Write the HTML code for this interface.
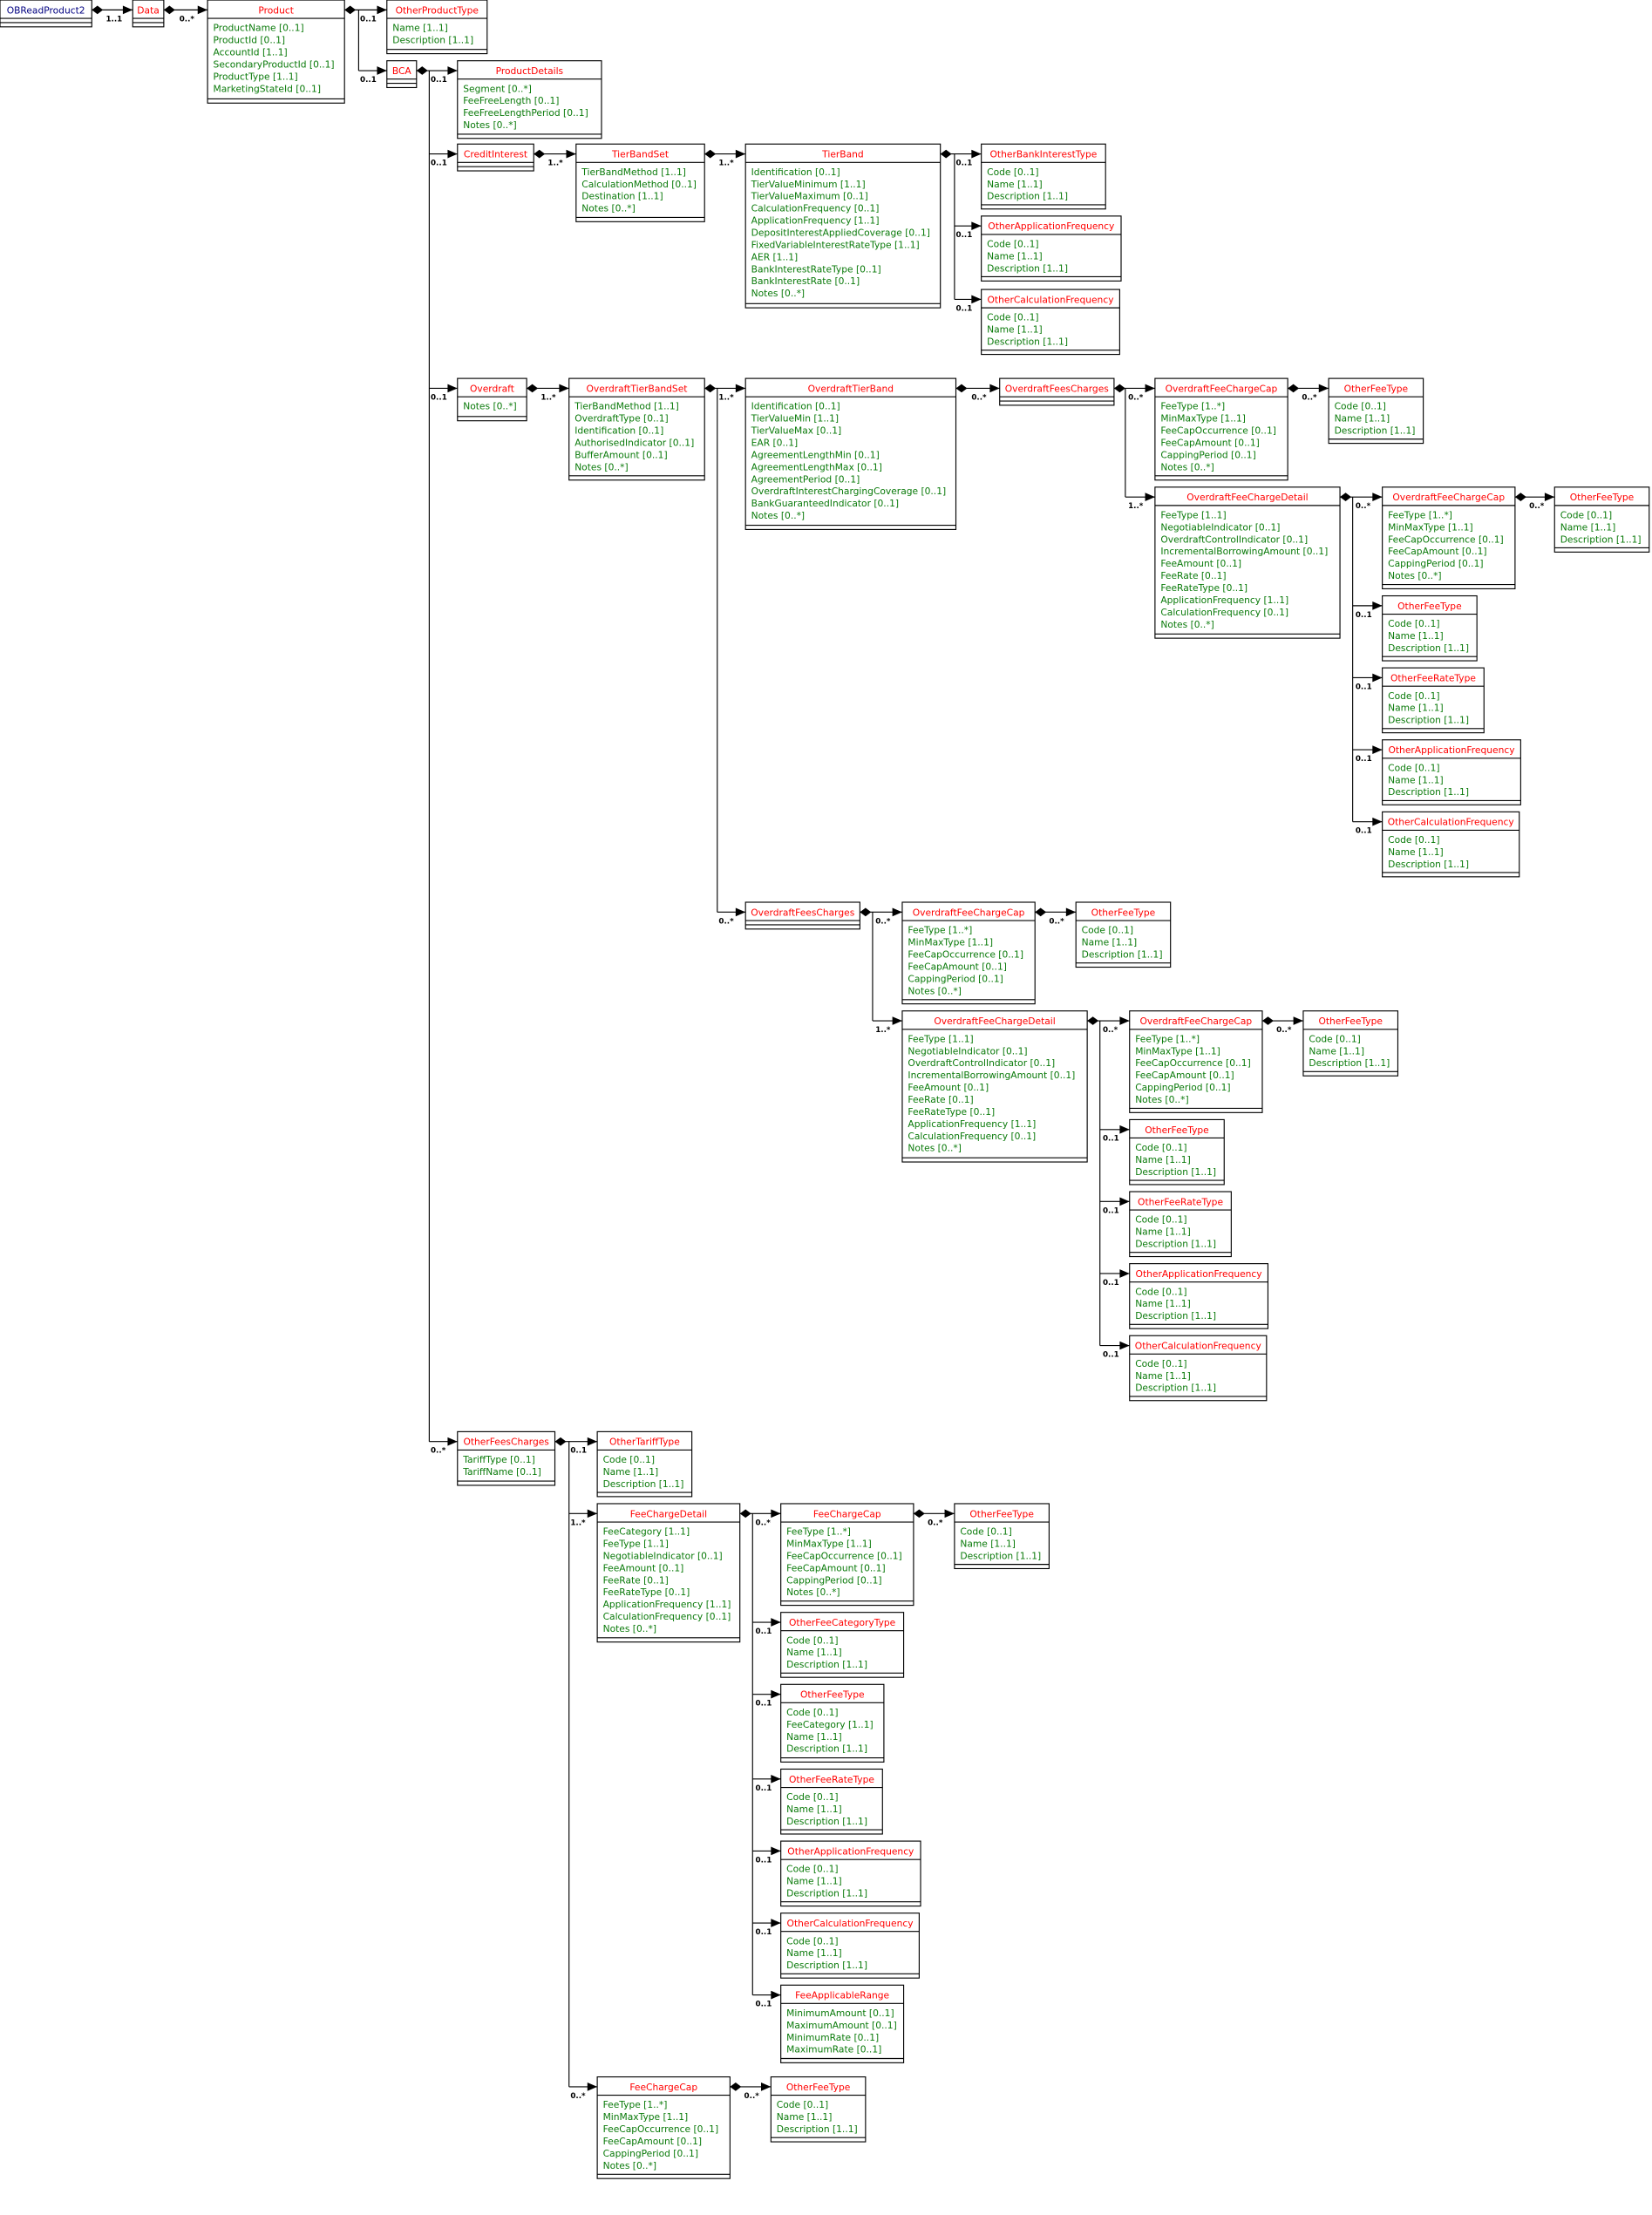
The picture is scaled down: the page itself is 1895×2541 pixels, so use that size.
<!DOCTYPE html>
<html><head><meta charset="utf-8"><style>
html,body{margin:0;padding:0;background:#fff}
svg{display:block}
.b rect{fill:#fff;stroke:#000;stroke-width:0.7}
.b line{stroke:#000;stroke-width:0.7}
text{font-family:"DejaVu Sans","Liberation Sans",sans-serif;font-size:6.6px}
.h{fill:#ff0000;text-anchor:middle}
.n{fill:#000080;text-anchor:middle}
.a{fill:#0a7a0a}
.m{fill:#000;font-size:5.4px;font-weight:bold}
.c{fill:none;stroke:#000;stroke-width:0.7}
.d{fill:#000}
</style></head><body>
<svg width="1895" height="2541" viewBox="0 0 1170 1568.8" xmlns="http://www.w3.org/2000/svg">
<rect x="0" y="0" width="1170" height="1569" fill="#fff"/>

<!-- connectors -->
<g>
<path class="c" d="M65,7H94 M116,7H147 M244,7H254V50 M254,7H274 M254,50H274
M295,50H304V1021 M304,50H324 M304,109H324 M304,275H324 M304,1021H324
M378,109H408 M499,109H528 M666,109H676V212 M676,109H695 M676,160H695 M676,212H695
M373,275H403 M499,275H508V646 M508,275H528 M508,646H528
M677,275H708 M789,275H797V352 M797,275H818 M797,352H818 M912,275H941
M949,352H958V582 M958,352H979 M958,429H979 M958,480H979 M958,531H979 M958,582H979 M1073,352H1101
M609,646H618V723 M618,646H639 M618,723H639 M733,646H762
M770,723H779V953 M779,723H800 M779,800H800 M779,851H800 M779,902H800 M779,953H800 M894,723H923
M393,1021H403V1478 M403,1021H423 M403,1072H423 M403,1478H423
M524,1072H533V1413 M533,1072H553 M533,1149H553 M533,1200H553 M533,1260H553 M533,1311H553 M533,1362H553 M533,1413H553
M647,1072H676 M517,1478H546"/>
<!-- diamonds -->
<path class="d" d="M65,7l4,-3l4,3l-4,3z M116,7l4,-3l4,3l-4,3z M244,7l4,-3l4,3l-4,3z M295,50l4,-3l4,3l-4,3z
M378,109l4,-3l4,3l-4,3z M499,109l4,-3l4,3l-4,3z M666,109l4,-3l4,3l-4,3z M373,275l4,-3l4,3l-4,3z M499,275l4,-3l4,3l-4,3z
M677,275l4,-3l4,3l-4,3z M789,275l4,-3l4,3l-4,3z M912,275l4,-3l4,3l-4,3z M949,352l4,-3l4,3l-4,3z M1073,352l4,-3l4,3l-4,3z
M609,646l4,-3l4,3l-4,3z M733,646l4,-3l4,3l-4,3z M770,723l4,-3l4,3l-4,3z M894,723l4,-3l4,3l-4,3z
M393,1021l4,-3l4,3l-4,3z M524,1072l4,-3l4,3l-4,3z M647,1072l4,-3l4,3l-4,3z M517,1478l4,-3l4,3l-4,3z"/>
<!-- arrows -->
<path class="d" d="M94,7l-7,-3v6z M147,7l-7,-3v6z M274,7l-7,-3v6z M274,50l-7,-3v6z
M324,50l-7,-3v6z M324,109l-7,-3v6z M324,275l-7,-3v6z M324,1021l-7,-3v6z
M408,109l-7,-3v6z M528,109l-7,-3v6z M695,109l-7,-3v6z M695,160l-7,-3v6z M695,212l-7,-3v6z
M403,275l-7,-3v6z M528,275l-7,-3v6z M528,646l-7,-3v6z M708,275l-7,-3v6z M818,275l-7,-3v6z M818,352l-7,-3v6z M941,275l-7,-3v6z
M979,352l-7,-3v6z M979,429l-7,-3v6z M979,480l-7,-3v6z M979,531l-7,-3v6z M979,582l-7,-3v6z M1101,352l-7,-3v6z
M639,646l-7,-3v6z M639,723l-7,-3v6z M762,646l-7,-3v6z
M800,723l-7,-3v6z M800,800l-7,-3v6z M800,851l-7,-3v6z M800,902l-7,-3v6z M800,953l-7,-3v6z M923,723l-7,-3v6z
M423,1021l-7,-3v6z M423,1072l-7,-3v6z M423,1478l-7,-3v6z
M553,1072l-7,-3v6z M553,1149l-7,-3v6z M553,1200l-7,-3v6z M553,1260l-7,-3v6z M553,1311l-7,-3v6z M553,1362l-7,-3v6z M553,1413l-7,-3v6z
M676,1072l-7,-3v6z M546,1478l-7,-3v6z"/>
<!-- multiplicities -->
<text class="m" x="75" y="15">1..1</text>
<text class="m" x="127" y="15">0..*</text>
<text class="m" x="255" y="15">0..1</text>
<text class="m" x="255" y="58">0..1</text>
<text class="m" x="305" y="58">0..1</text>
<text class="m" x="305" y="117">0..1</text>
<text class="m" x="305" y="283">0..1</text>
<text class="m" x="305" y="1029">0..*</text>
<text class="m" x="388" y="117">1..*</text>
<text class="m" x="509" y="117">1..*</text>
<text class="m" x="677" y="117">0..1</text>
<text class="m" x="677" y="168">0..1</text>
<text class="m" x="677" y="220">0..1</text>
<text class="m" x="383" y="283">1..*</text>
<text class="m" x="509" y="283">1..*</text>
<text class="m" x="509" y="654">0..*</text>
<text class="m" x="688" y="283">0..*</text>
<text class="m" x="799" y="283">0..*</text>
<text class="m" x="799" y="360">1..*</text>
<text class="m" x="922" y="283">0..*</text>
<text class="m" x="960" y="360">0..*</text>
<text class="m" x="960" y="437">0..1</text>
<text class="m" x="960" y="488">0..1</text>
<text class="m" x="960" y="539">0..1</text>
<text class="m" x="960" y="590">0..1</text>
<text class="m" x="1083" y="360">0..*</text>
<text class="m" x="620" y="654">0..*</text>
<text class="m" x="620" y="731">1..*</text>
<text class="m" x="743" y="654">0..*</text>
<text class="m" x="781" y="731">0..*</text>
<text class="m" x="781" y="808">0..1</text>
<text class="m" x="781" y="859">0..1</text>
<text class="m" x="781" y="910">0..1</text>
<text class="m" x="781" y="961">0..1</text>
<text class="m" x="904" y="731">0..*</text>
<text class="m" x="404" y="1029">0..1</text>
<text class="m" x="404" y="1080">1..*</text>
<text class="m" x="404" y="1486">0..*</text>
<text class="m" x="535" y="1080">0..*</text>
<text class="m" x="535" y="1157">0..1</text>
<text class="m" x="535" y="1208">0..1</text>
<text class="m" x="535" y="1268">0..1</text>
<text class="m" x="535" y="1319">0..1</text>
<text class="m" x="535" y="1370">0..1</text>
<text class="m" x="535" y="1421">0..1</text>
<text class="m" x="657" y="1080">0..*</text>
<text class="m" x="527" y="1486">0..*</text>
</g>

<!-- boxes -->
<g class="b" transform="translate(0,0)"><rect width="65" height="19"/><line x2="65" y1="13" y2="13"/><line x2="65" y1="16" y2="16"/><text class="n" x="32.5" y="9.5">OBReadProduct2</text></g>
<g class="b" transform="translate(94,0)"><rect width="22" height="19"/><line x2="22" y1="13" y2="13"/><line x2="22" y1="16" y2="16"/><text class="h" x="11" y="9.5">Data</text></g>
<g class="b" transform="translate(147,0)"><rect width="97" height="73"/><line x2="97" y1="13" y2="13"/><line x2="97" y1="70" y2="70"/><text class="h" x="48.5" y="9.5">Product</text>
<text class="a" x="4" y="22">ProductName [0..1]</text><text class="a" x="4" y="30.6">ProductId [0..1]</text><text class="a" x="4" y="39.2">AccountId [1..1]</text><text class="a" x="4" y="47.8">SecondaryProductId [0..1]</text><text class="a" x="4" y="56.4">ProductType [1..1]</text><text class="a" x="4" y="65">MarketingStateId [0..1]</text></g>
<g class="b" transform="translate(274,0)"><rect width="71" height="38"/><line x2="71" y1="13" y2="13"/><line x2="71" y1="35" y2="35"/><text class="h" x="35.5" y="9.5">OtherProductType</text>
<text class="a" x="4" y="22">Name [1..1]</text><text class="a" x="4" y="30.6">Description [1..1]</text></g>
<g class="b" transform="translate(274,43)"><rect width="21" height="19"/><line x2="21" y1="13" y2="13"/><line x2="21" y1="16" y2="16"/><text class="h" x="10.5" y="9.5">BCA</text></g>
<g class="b" transform="translate(324,43)"><rect width="102" height="55"/><line x2="102" y1="13" y2="13"/><line x2="102" y1="52" y2="52"/><text class="h" x="51" y="9.5">ProductDetails</text>
<text class="a" x="4" y="22">Segment [0..*]</text><text class="a" x="4" y="30.6">FeeFreeLength [0..1]</text><text class="a" x="4" y="39.2">FeeFreeLengthPeriod [0..1]</text><text class="a" x="4" y="47.8">Notes [0..*]</text></g>
<g class="b" transform="translate(324,102)"><rect width="54" height="19"/><line x2="54" y1="13" y2="13"/><line x2="54" y1="16" y2="16"/><text class="h" x="27" y="9.5">CreditInterest</text></g>
<g class="b" transform="translate(408,102)"><rect width="91" height="55"/><line x2="91" y1="13" y2="13"/><line x2="91" y1="52" y2="52"/><text class="h" x="45.5" y="9.5">TierBandSet</text>
<text class="a" x="4" y="22">TierBandMethod [1..1]</text><text class="a" x="4" y="30.6">CalculationMethod [0..1]</text><text class="a" x="4" y="39.2">Destination [1..1]</text><text class="a" x="4" y="47.8">Notes [0..*]</text></g>
<g class="b" transform="translate(528,102)"><rect width="138" height="116"/><line x2="138" y1="13" y2="13"/><line x2="138" y1="113" y2="113"/><text class="h" x="69" y="9.5">TierBand</text>
<text class="a" x="4" y="22">Identification [0..1]</text><text class="a" x="4" y="30.6">TierValueMinimum [1..1]</text><text class="a" x="4" y="39.2">TierValueMaximum [0..1]</text><text class="a" x="4" y="47.8">CalculationFrequency [0..1]</text><text class="a" x="4" y="56.4">ApplicationFrequency [1..1]</text><text class="a" x="4" y="65">DepositInterestAppliedCoverage [0..1]</text><text class="a" x="4" y="73.6">FixedVariableInterestRateType [1..1]</text><text class="a" x="4" y="82.2">AER [1..1]</text><text class="a" x="4" y="90.8">BankInterestRateType [0..1]</text><text class="a" x="4" y="99.4">BankInterestRate [0..1]</text><text class="a" x="4" y="108">Notes [0..*]</text></g>
<g class="b" transform="translate(695,102)"><rect width="88" height="46"/><line x2="88" y1="13" y2="13"/><line x2="88" y1="43" y2="43"/><text class="h" x="44" y="9.5">OtherBankInterestType</text>
<text class="a" x="4" y="22">Code [0..1]</text><text class="a" x="4" y="30.6">Name [1..1]</text><text class="a" x="4" y="39.2">Description [1..1]</text></g>
<g class="b" transform="translate(695,153)"><rect width="99" height="46"/><line x2="99" y1="13" y2="13"/><line x2="99" y1="43" y2="43"/><text class="h" x="49.5" y="9.5">OtherApplicationFrequency</text>
<text class="a" x="4" y="22">Code [0..1]</text><text class="a" x="4" y="30.6">Name [1..1]</text><text class="a" x="4" y="39.2">Description [1..1]</text></g>
<g class="b" transform="translate(695,205)"><rect width="98" height="46"/><line x2="98" y1="13" y2="13"/><line x2="98" y1="43" y2="43"/><text class="h" x="49" y="9.5">OtherCalculationFrequency</text>
<text class="a" x="4" y="22">Code [0..1]</text><text class="a" x="4" y="30.6">Name [1..1]</text><text class="a" x="4" y="39.2">Description [1..1]</text></g>

<g class="b" transform="translate(324,268)"><rect width="49" height="30"/><line x2="49" y1="13" y2="13"/><line x2="49" y1="27" y2="27"/><text class="h" x="24.5" y="9.5">Overdraft</text>
<text class="a" x="4" y="22">Notes [0..*]</text></g>
<g class="b" transform="translate(403,268)"><rect width="96" height="72"/><line x2="96" y1="13" y2="13"/><line x2="96" y1="69" y2="69"/><text class="h" x="48" y="9.5">OverdraftTierBandSet</text>
<text class="a" x="4" y="22">TierBandMethod [1..1]</text><text class="a" x="4" y="30.6">OverdraftType [0..1]</text><text class="a" x="4" y="39.2">Identification [0..1]</text><text class="a" x="4" y="47.8">AuthorisedIndicator [0..1]</text><text class="a" x="4" y="56.4">BufferAmount [0..1]</text><text class="a" x="4" y="65">Notes [0..*]</text></g>
<g class="b" transform="translate(528,268)"><rect width="149" height="107"/><line x2="149" y1="13" y2="13"/><line x2="149" y1="104" y2="104"/><text class="h" x="74.5" y="9.5">OverdraftTierBand</text>
<text class="a" x="4" y="22">Identification [0..1]</text><text class="a" x="4" y="30.6">TierValueMin [1..1]</text><text class="a" x="4" y="39.2">TierValueMax [0..1]</text><text class="a" x="4" y="47.8">EAR [0..1]</text><text class="a" x="4" y="56.4">AgreementLengthMin [0..1]</text><text class="a" x="4" y="65">AgreementLengthMax [0..1]</text><text class="a" x="4" y="73.6">AgreementPeriod [0..1]</text><text class="a" x="4" y="82.2">OverdraftInterestChargingCoverage [0..1]</text><text class="a" x="4" y="90.8">BankGuaranteedIndicator [0..1]</text><text class="a" x="4" y="99.4">Notes [0..*]</text></g>
<g class="b" transform="translate(708,268)"><rect width="81" height="19"/><line x2="81" y1="13" y2="13"/><line x2="81" y1="16" y2="16"/><text class="h" x="40.5" y="9.5">OverdraftFeesCharges</text></g>
<g class="b" transform="translate(818,268)"><rect width="94" height="72"/><line x2="94" y1="13" y2="13"/><line x2="94" y1="69" y2="69"/><text class="h" x="47" y="9.5">OverdraftFeeChargeCap</text>
<text class="a" x="4" y="22">FeeType [1..*]</text><text class="a" x="4" y="30.6">MinMaxType [1..1]</text><text class="a" x="4" y="39.2">FeeCapOccurrence [0..1]</text><text class="a" x="4" y="47.8">FeeCapAmount [0..1]</text><text class="a" x="4" y="56.4">CappingPeriod [0..1]</text><text class="a" x="4" y="65">Notes [0..*]</text></g>
<g class="b" transform="translate(941,268)"><rect width="67" height="46"/><line x2="67" y1="13" y2="13"/><line x2="67" y1="43" y2="43"/><text class="h" x="33.5" y="9.5">OtherFeeType</text>
<text class="a" x="4" y="22">Code [0..1]</text><text class="a" x="4" y="30.6">Name [1..1]</text><text class="a" x="4" y="39.2">Description [1..1]</text></g>
<g class="b" transform="translate(818,345)"><rect width="131" height="107"/><line x2="131" y1="13" y2="13"/><line x2="131" y1="104" y2="104"/><text class="h" x="65.5" y="9.5">OverdraftFeeChargeDetail</text>
<text class="a" x="4" y="22">FeeType [1..1]</text><text class="a" x="4" y="30.6">NegotiableIndicator [0..1]</text><text class="a" x="4" y="39.2">OverdraftControlIndicator [0..1]</text><text class="a" x="4" y="47.8">IncrementalBorrowingAmount [0..1]</text><text class="a" x="4" y="56.4">FeeAmount [0..1]</text><text class="a" x="4" y="65">FeeRate [0..1]</text><text class="a" x="4" y="73.6">FeeRateType [0..1]</text><text class="a" x="4" y="82.2">ApplicationFrequency [1..1]</text><text class="a" x="4" y="90.8">CalculationFrequency [0..1]</text><text class="a" x="4" y="99.4">Notes [0..*]</text></g>
<g class="b" transform="translate(979,345)"><rect width="94" height="72"/><line x2="94" y1="13" y2="13"/><line x2="94" y1="69" y2="69"/><text class="h" x="47" y="9.5">OverdraftFeeChargeCap</text>
<text class="a" x="4" y="22">FeeType [1..*]</text><text class="a" x="4" y="30.6">MinMaxType [1..1]</text><text class="a" x="4" y="39.2">FeeCapOccurrence [0..1]</text><text class="a" x="4" y="47.8">FeeCapAmount [0..1]</text><text class="a" x="4" y="56.4">CappingPeriod [0..1]</text><text class="a" x="4" y="65">Notes [0..*]</text></g>
<g class="b" transform="translate(1101,345)"><rect width="67" height="46"/><line x2="67" y1="13" y2="13"/><line x2="67" y1="43" y2="43"/><text class="h" x="33.5" y="9.5">OtherFeeType</text>
<text class="a" x="4" y="22">Code [0..1]</text><text class="a" x="4" y="30.6">Name [1..1]</text><text class="a" x="4" y="39.2">Description [1..1]</text></g>
<g class="b" transform="translate(979,422)"><rect width="67" height="46"/><line x2="67" y1="13" y2="13"/><line x2="67" y1="43" y2="43"/><text class="h" x="33.5" y="9.5">OtherFeeType</text>
<text class="a" x="4" y="22">Code [0..1]</text><text class="a" x="4" y="30.6">Name [1..1]</text><text class="a" x="4" y="39.2">Description [1..1]</text></g>
<g class="b" transform="translate(979,473)"><rect width="72" height="46"/><line x2="72" y1="13" y2="13"/><line x2="72" y1="43" y2="43"/><text class="h" x="36" y="9.5">OtherFeeRateType</text>
<text class="a" x="4" y="22">Code [0..1]</text><text class="a" x="4" y="30.6">Name [1..1]</text><text class="a" x="4" y="39.2">Description [1..1]</text></g>
<g class="b" transform="translate(979,524)"><rect width="98" height="46"/><line x2="98" y1="13" y2="13"/><line x2="98" y1="43" y2="43"/><text class="h" x="49" y="9.5">OtherApplicationFrequency</text>
<text class="a" x="4" y="22">Code [0..1]</text><text class="a" x="4" y="30.6">Name [1..1]</text><text class="a" x="4" y="39.2">Description [1..1]</text></g>
<g class="b" transform="translate(979,575)"><rect width="97" height="46"/><line x2="97" y1="13" y2="13"/><line x2="97" y1="43" y2="43"/><text class="h" x="48.5" y="9.5">OtherCalculationFrequency</text>
<text class="a" x="4" y="22">Code [0..1]</text><text class="a" x="4" y="30.6">Name [1..1]</text><text class="a" x="4" y="39.2">Description [1..1]</text></g>

<g class="b" transform="translate(528,639)"><rect width="81" height="19"/><line x2="81" y1="13" y2="13"/><line x2="81" y1="16" y2="16"/><text class="h" x="40.5" y="9.5">OverdraftFeesCharges</text></g>
<g class="b" transform="translate(639,639)"><rect width="94" height="72"/><line x2="94" y1="13" y2="13"/><line x2="94" y1="69" y2="69"/><text class="h" x="47" y="9.5">OverdraftFeeChargeCap</text>
<text class="a" x="4" y="22">FeeType [1..*]</text><text class="a" x="4" y="30.6">MinMaxType [1..1]</text><text class="a" x="4" y="39.2">FeeCapOccurrence [0..1]</text><text class="a" x="4" y="47.8">FeeCapAmount [0..1]</text><text class="a" x="4" y="56.4">CappingPeriod [0..1]</text><text class="a" x="4" y="65">Notes [0..*]</text></g>
<g class="b" transform="translate(762,639)"><rect width="67" height="46"/><line x2="67" y1="13" y2="13"/><line x2="67" y1="43" y2="43"/><text class="h" x="33.5" y="9.5">OtherFeeType</text>
<text class="a" x="4" y="22">Code [0..1]</text><text class="a" x="4" y="30.6">Name [1..1]</text><text class="a" x="4" y="39.2">Description [1..1]</text></g>
<g class="b" transform="translate(639,716)"><rect width="131" height="107"/><line x2="131" y1="13" y2="13"/><line x2="131" y1="104" y2="104"/><text class="h" x="65.5" y="9.5">OverdraftFeeChargeDetail</text>
<text class="a" x="4" y="22">FeeType [1..1]</text><text class="a" x="4" y="30.6">NegotiableIndicator [0..1]</text><text class="a" x="4" y="39.2">OverdraftControlIndicator [0..1]</text><text class="a" x="4" y="47.8">IncrementalBorrowingAmount [0..1]</text><text class="a" x="4" y="56.4">FeeAmount [0..1]</text><text class="a" x="4" y="65">FeeRate [0..1]</text><text class="a" x="4" y="73.6">FeeRateType [0..1]</text><text class="a" x="4" y="82.2">ApplicationFrequency [1..1]</text><text class="a" x="4" y="90.8">CalculationFrequency [0..1]</text><text class="a" x="4" y="99.4">Notes [0..*]</text></g>
<g class="b" transform="translate(800,716)"><rect width="94" height="72"/><line x2="94" y1="13" y2="13"/><line x2="94" y1="69" y2="69"/><text class="h" x="47" y="9.5">OverdraftFeeChargeCap</text>
<text class="a" x="4" y="22">FeeType [1..*]</text><text class="a" x="4" y="30.6">MinMaxType [1..1]</text><text class="a" x="4" y="39.2">FeeCapOccurrence [0..1]</text><text class="a" x="4" y="47.8">FeeCapAmount [0..1]</text><text class="a" x="4" y="56.4">CappingPeriod [0..1]</text><text class="a" x="4" y="65">Notes [0..*]</text></g>
<g class="b" transform="translate(923,716)"><rect width="67" height="46"/><line x2="67" y1="13" y2="13"/><line x2="67" y1="43" y2="43"/><text class="h" x="33.5" y="9.5">OtherFeeType</text>
<text class="a" x="4" y="22">Code [0..1]</text><text class="a" x="4" y="30.6">Name [1..1]</text><text class="a" x="4" y="39.2">Description [1..1]</text></g>
<g class="b" transform="translate(800,793)"><rect width="67" height="46"/><line x2="67" y1="13" y2="13"/><line x2="67" y1="43" y2="43"/><text class="h" x="33.5" y="9.5">OtherFeeType</text>
<text class="a" x="4" y="22">Code [0..1]</text><text class="a" x="4" y="30.6">Name [1..1]</text><text class="a" x="4" y="39.2">Description [1..1]</text></g>
<g class="b" transform="translate(800,844)"><rect width="72" height="46"/><line x2="72" y1="13" y2="13"/><line x2="72" y1="43" y2="43"/><text class="h" x="36" y="9.5">OtherFeeRateType</text>
<text class="a" x="4" y="22">Code [0..1]</text><text class="a" x="4" y="30.6">Name [1..1]</text><text class="a" x="4" y="39.2">Description [1..1]</text></g>
<g class="b" transform="translate(800,895)"><rect width="98" height="46"/><line x2="98" y1="13" y2="13"/><line x2="98" y1="43" y2="43"/><text class="h" x="49" y="9.5">OtherApplicationFrequency</text>
<text class="a" x="4" y="22">Code [0..1]</text><text class="a" x="4" y="30.6">Name [1..1]</text><text class="a" x="4" y="39.2">Description [1..1]</text></g>
<g class="b" transform="translate(800,946)"><rect width="97" height="46"/><line x2="97" y1="13" y2="13"/><line x2="97" y1="43" y2="43"/><text class="h" x="48.5" y="9.5">OtherCalculationFrequency</text>
<text class="a" x="4" y="22">Code [0..1]</text><text class="a" x="4" y="30.6">Name [1..1]</text><text class="a" x="4" y="39.2">Description [1..1]</text></g>

<g class="b" transform="translate(324,1014)"><rect width="69" height="38"/><line x2="69" y1="13" y2="13"/><line x2="69" y1="35" y2="35"/><text class="h" x="34.5" y="9.5">OtherFeesCharges</text>
<text class="a" x="4" y="22">TariffType [0..1]</text><text class="a" x="4" y="30.6">TariffName [0..1]</text></g>
<g class="b" transform="translate(423,1014)"><rect width="67" height="46"/><line x2="67" y1="13" y2="13"/><line x2="67" y1="43" y2="43"/><text class="h" x="33.5" y="9.5">OtherTariffType</text>
<text class="a" x="4" y="22">Code [0..1]</text><text class="a" x="4" y="30.6">Name [1..1]</text><text class="a" x="4" y="39.2">Description [1..1]</text></g>
<g class="b" transform="translate(423,1065)"><rect width="101" height="98"/><line x2="101" y1="13" y2="13"/><line x2="101" y1="95" y2="95"/><text class="h" x="50.5" y="9.5">FeeChargeDetail</text>
<text class="a" x="4" y="22">FeeCategory [1..1]</text><text class="a" x="4" y="30.6">FeeType [1..1]</text><text class="a" x="4" y="39.2">NegotiableIndicator [0..1]</text><text class="a" x="4" y="47.8">FeeAmount [0..1]</text><text class="a" x="4" y="56.4">FeeRate [0..1]</text><text class="a" x="4" y="65">FeeRateType [0..1]</text><text class="a" x="4" y="73.6">ApplicationFrequency [1..1]</text><text class="a" x="4" y="82.2">CalculationFrequency [0..1]</text><text class="a" x="4" y="90.8">Notes [0..*]</text></g>
<g class="b" transform="translate(553,1065)"><rect width="94" height="72"/><line x2="94" y1="13" y2="13"/><line x2="94" y1="69" y2="69"/><text class="h" x="47" y="9.5">FeeChargeCap</text>
<text class="a" x="4" y="22">FeeType [1..*]</text><text class="a" x="4" y="30.6">MinMaxType [1..1]</text><text class="a" x="4" y="39.2">FeeCapOccurrence [0..1]</text><text class="a" x="4" y="47.8">FeeCapAmount [0..1]</text><text class="a" x="4" y="56.4">CappingPeriod [0..1]</text><text class="a" x="4" y="65">Notes [0..*]</text></g>
<g class="b" transform="translate(676,1065)"><rect width="67" height="46"/><line x2="67" y1="13" y2="13"/><line x2="67" y1="43" y2="43"/><text class="h" x="33.5" y="9.5">OtherFeeType</text>
<text class="a" x="4" y="22">Code [0..1]</text><text class="a" x="4" y="30.6">Name [1..1]</text><text class="a" x="4" y="39.2">Description [1..1]</text></g>
<g class="b" transform="translate(553,1142)"><rect width="87" height="46"/><line x2="87" y1="13" y2="13"/><line x2="87" y1="43" y2="43"/><text class="h" x="43.5" y="9.5">OtherFeeCategoryType</text>
<text class="a" x="4" y="22">Code [0..1]</text><text class="a" x="4" y="30.6">Name [1..1]</text><text class="a" x="4" y="39.2">Description [1..1]</text></g>
<g class="b" transform="translate(553,1193)"><rect width="73" height="55"/><line x2="73" y1="13" y2="13"/><line x2="73" y1="52" y2="52"/><text class="h" x="36.5" y="9.5">OtherFeeType</text>
<text class="a" x="4" y="22">Code [0..1]</text><text class="a" x="4" y="30.6">FeeCategory [1..1]</text><text class="a" x="4" y="39.2">Name [1..1]</text><text class="a" x="4" y="47.8">Description [1..1]</text></g>
<g class="b" transform="translate(553,1253)"><rect width="72" height="46"/><line x2="72" y1="13" y2="13"/><line x2="72" y1="43" y2="43"/><text class="h" x="36" y="9.5">OtherFeeRateType</text>
<text class="a" x="4" y="22">Code [0..1]</text><text class="a" x="4" y="30.6">Name [1..1]</text><text class="a" x="4" y="39.2">Description [1..1]</text></g>
<g class="b" transform="translate(553,1304)"><rect width="99" height="46"/><line x2="99" y1="13" y2="13"/><line x2="99" y1="43" y2="43"/><text class="h" x="49.5" y="9.5">OtherApplicationFrequency</text>
<text class="a" x="4" y="22">Code [0..1]</text><text class="a" x="4" y="30.6">Name [1..1]</text><text class="a" x="4" y="39.2">Description [1..1]</text></g>
<g class="b" transform="translate(553,1355)"><rect width="98" height="46"/><line x2="98" y1="13" y2="13"/><line x2="98" y1="43" y2="43"/><text class="h" x="49" y="9.5">OtherCalculationFrequency</text>
<text class="a" x="4" y="22">Code [0..1]</text><text class="a" x="4" y="30.6">Name [1..1]</text><text class="a" x="4" y="39.2">Description [1..1]</text></g>
<g class="b" transform="translate(553,1406)"><rect width="87" height="55"/><line x2="87" y1="13" y2="13"/><line x2="87" y1="52" y2="52"/><text class="h" x="43.5" y="9.5">FeeApplicableRange</text>
<text class="a" x="4" y="22">MinimumAmount [0..1]</text><text class="a" x="4" y="30.6">MaximumAmount [0..1]</text><text class="a" x="4" y="39.2">MinimumRate [0..1]</text><text class="a" x="4" y="47.8">MaximumRate [0..1]</text></g>
<g class="b" transform="translate(423,1471)"><rect width="94" height="72"/><line x2="94" y1="13" y2="13"/><line x2="94" y1="69" y2="69"/><text class="h" x="47" y="9.5">FeeChargeCap</text>
<text class="a" x="4" y="22">FeeType [1..*]</text><text class="a" x="4" y="30.6">MinMaxType [1..1]</text><text class="a" x="4" y="39.2">FeeCapOccurrence [0..1]</text><text class="a" x="4" y="47.8">FeeCapAmount [0..1]</text><text class="a" x="4" y="56.4">CappingPeriod [0..1]</text><text class="a" x="4" y="65">Notes [0..*]</text></g>
<g class="b" transform="translate(546,1471)"><rect width="67" height="46"/><line x2="67" y1="13" y2="13"/><line x2="67" y1="43" y2="43"/><text class="h" x="33.5" y="9.5">OtherFeeType</text>
<text class="a" x="4" y="22">Code [0..1]</text><text class="a" x="4" y="30.6">Name [1..1]</text><text class="a" x="4" y="39.2">Description [1..1]</text></g>
</svg>
</body></html>
